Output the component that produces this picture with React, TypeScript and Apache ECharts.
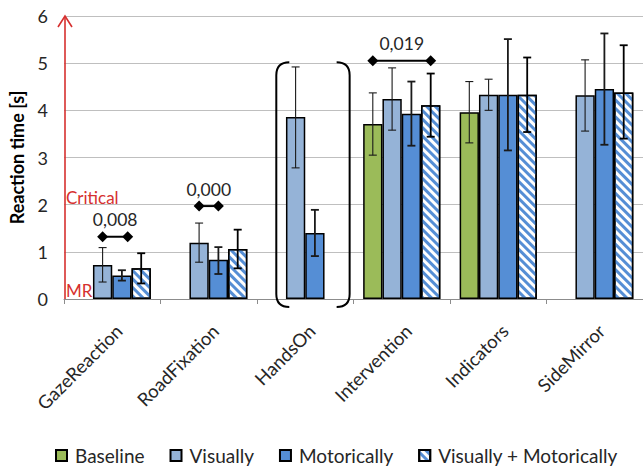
import React, { useEffect, useRef } from "react";
import * as echarts from "echarts";

const categories = ["GazeReaction", "RoadFixation", "HandsOn", "Intervention", "Indicators", "SideMirror"];
const seriesNames = ["Baseline", "Visually", "Motorically", "Visually + Motorically"];

const baseline = [null, null, null, 3.71, 3.96, null];
const visually = [0.72, 1.19, 3.86, 4.24, 4.33, 4.32];
const motorically = [0.5, 0.83, 1.4, 3.93, 4.33, 4.45];
const visMot = [0.65, 1.06, null, 4.11, 4.33, 4.38];

const baselineLow = [null, null, null, 3.05, 3.31, null];
const baselineHigh = [null, null, null, 4.37, 4.61, null];
const visuallyLow = [0.36, 0.78, 2.78, 3.58, 4.0, 3.56];
const visuallyHigh = [1.09, 1.61, 4.92, 4.9, 4.66, 5.07];
const motoricallyLow = [0.39, 0.53, 0.91, 3.25, 3.15, 3.27];
const motoricallyHigh = [0.61, 1.1, 1.89, 4.61, 5.51, 5.63];
const visMotLow = [0.33, 0.65, null, 3.44, 3.54, 3.4];
const visMotHigh = [0.97, 1.47, null, 4.78, 5.12, 5.38];

// significance markers: category, from slot, to slot, y value, label
const sigCats = [0, 1, 3];
const sigFrom = [1, 1, 0];
const sigTo = [2.3, 2, 3];
const sigY = [1.32, 1.97, 5.05];
const sigLabels = ["0,008", "0,000", "0,019"];

const yTicks = [0, 1, 2, 3, 4, 5, 6];

const COLORS = ["#9bbb59", "#95b3d7", "#558ed5", "#ffffff"];
const RED = "#d6302f";
const TEXT = "#262626";
const FONT = "Lato, 'Liberation Sans', sans-serif";

export default function App() {
  const ref = useRef<HTMLDivElement>(null);
  useEffect(() => {
    document.body.style.margin = "0";
    const chart = echarts.init(ref.current!, null, { renderer: "svg" });
    const values = [baseline, visually, motorically, visMot];
    const lows = [baselineLow, visuallyLow, motoricallyLow, visMotLow];
    const highs = [baselineHigh, visuallyHigh, motoricallyHigh, visMotHigh];

    const errData: number[][] = [];
    lows.forEach((lo, s) =>
      categories.forEach((_, c) => {
        if (lo[c] != null && highs[s][c] != null) errData.push([c, s, lo[c] as number, highs[s][c] as number]);
      })
    );
    const sigData = sigCats.map((c, i) => [c, sigFrom[i], sigTo[i], sigY[i], i]);

    const slotX = (api: any, c: number, s: number) => {
      const center = api.coord([c, 0])[0];
      const bw = (api.size([1, 0])[0] * 0.8) / 4;
      return center + (s - 1.5) * bw;
    };

    const barSeries = seriesNames.map((name, s) => ({
      name,
      type: "bar",
      data: values[s],
      barGap: "0%",
      barCategoryGap: "20%",
      itemStyle: {
        color: COLORS[s],
        borderColor: "#000",
        borderWidth: 1.5,
        ...(s === 3
          ? {
              decal: {
                symbol: "rect",
                color: "#558ed5",
                dashArrayX: [1, 0],
                dashArrayY: [2.2, 2.8],
                rotation: Math.PI / 4,
              },
            }
          : {}),
      },
    }));

    chart.setOption({
      animation: false,
      textStyle: { fontFamily: FONT },
      grid: { left: 64, top: 16, width: 585, height: 283, containLabel: false },
      legend: {
        data: seriesNames,
        left: 50,
        top: 441,
        icon: "rect",
        itemWidth: 11,
        itemHeight: 11,
        itemGap: 25,
        textStyle: { fontSize: 19, color: TEXT, fontFamily: FONT, padding: [0, 0, 0, 3] },
      },
      xAxis: {
        type: "category",
        data: categories,
        axisLine: { lineStyle: { color: "#8c8c8c", width: 1 } },
        axisTick: { show: true, length: 5, lineStyle: { color: "#8c8c8c" } },
        axisLabel: {
          rotate: 45,
          fontSize: 18.5,
          color: TEXT,
          margin: 22,
          fontFamily: FONT,
          interval: 0,
          align: "right",
          verticalAlign: "top",
        },
      },
      yAxis: {
        type: "value",
        min: yTicks[0],
        max: yTicks[yTicks.length - 1],
        interval: 1,
        name: "Reaction time [s]",
        nameLocation: "middle",
        nameGap: 38,
        nameTextStyle: { fontSize: 18, fontWeight: "bold", color: "#000", fontFamily: FONT },
        axisLine: { show: false },
        axisTick: { show: false },
        axisLabel: { fontSize: 18, color: TEXT, margin: 16, fontFamily: FONT },
        splitLine: { lineStyle: { color: "#bfbfbf", width: 1 } },
      },
      series: [
        ...barSeries,
        {
          type: "custom",
          name: "err",
          data: errData,
          encode: { x: 0, y: [2, 3] },
          z: 5,
          renderItem: (params: any, api: any) => {
            const c = api.value(0);
            const s = api.value(1);
            const x = slotX(api, c, s);
            const yl = api.coord([c, api.value(2)])[1];
            const yh = api.coord([c, api.value(3)])[1];
            const hw = 4;
            const st = { stroke: s === 3 ? "#000" : "#1a1a1a", lineWidth: s === 3 || s === 2 ? 1.8 : 1.1 };
            return {
              type: "group",
              children: [
                { type: "line", shape: { x1: x, y1: yh, x2: x, y2: yl }, style: st },
                { type: "line", shape: { x1: x - hw, y1: yh, x2: x + hw, y2: yh }, style: st },
                { type: "line", shape: { x1: x - hw, y1: yl, x2: x + hw, y2: yl }, style: st },
              ],
            };
          },
        },
        {
          type: "custom",
          name: "sig",
          data: sigData,
          encode: { x: 0, y: 3 },
          z: 6,
          renderItem: (params: any, api: any) => {
            const c = api.value(0);
            const x1 = slotX(api, c, api.value(1));
            const x2 = slotX(api, c, api.value(2));
            const y = api.coord([c, api.value(3)])[1];
            const label = sigLabels[api.value(4)];
            const d = (x: number) => ({
              type: "polygon",
              shape: { points: [[x - 5.5, y], [x, y - 5.5], [x + 5.5, y], [x, y + 5.5]] },
              style: { fill: "#000" },
            });
            return {
              type: "group",
              children: [
                { type: "line", shape: { x1, y1: y, x2, y2: y }, style: { stroke: "#000", lineWidth: 2 } },
                d(x1),
                d(x2),
                {
                  type: "text",
                  x: (x1 + x2) / 2,
                  y: y - 17,
                  style: {
                    text: label,
                    fill: TEXT,
                    font: `17.5px ${FONT}`,
                    align: "center",
                    verticalAlign: "middle",
                  },
                },
              ],
            };
          },
        },
        {
          type: "custom",
          name: "bracket",
          data: [[2, 0, 3.8, 5.02, -0.17]],
          encode: { x: 0, y: 3 },
          z: 6,
          renderItem: (params: any, api: any) => {
            const c = api.value(0);
            const xl = slotX(api, c, api.value(1));
            const xr = slotX(api, c, api.value(2));
            const yt = api.coord([c, api.value(3)])[1];
            const yb = api.coord([c, api.value(4)])[1];
            const r = 13;
            const st = { stroke: "#000", lineWidth: 2, fill: "none" };
            return {
              type: "group",
              children: [
                {
                  type: "path",
                  shape: {
                    pathData: `M${xl + r} ${yt} Q${xl} ${yt} ${xl} ${yt + r} L${xl} ${yb - r} Q${xl} ${yb} ${xl + r} ${yb}`,
                  },
                  style: st,
                },
                {
                  type: "path",
                  shape: {
                    pathData: `M${xr - r} ${yt} Q${xr} ${yt} ${xr} ${yt + r} L${xr} ${yb - r} Q${xr} ${yb} ${xr - r} ${yb}`,
                  },
                  style: st,
                },
              ],
            };
          },
        },
        {
          type: "custom",
          name: "arrow",
          data: [[0, 0, 6, 2.16, 0.19]],
          encode: { x: 0, y: 2 },
          z: 7,
          renderItem: (params: any, api: any) => {
            const x = params.coordSys.x + 1;
            const y0 = api.coord([0, api.value(1)])[1];
            const y6 = api.coord([0, api.value(2)])[1];
            const yc = api.coord([0, api.value(3)])[1];
            const ym = api.coord([0, api.value(4)])[1];
            const st = { stroke: RED, lineWidth: 1.6, fill: "none" };
            return {
              type: "group",
              children: [
                { type: "line", shape: { x1: x, y1: y0, x2: x, y2: y6 }, style: st },
                { type: "polyline", shape: { points: [[x - 7, y6 + 11], [x, y6], [x + 7, y6 + 11]] }, style: st },
                {
                  type: "text",
                  x: x + 1,
                  y: yc,
                  style: { text: "Critical", fill: RED, font: `17px ${FONT}`, align: "left", verticalAlign: "middle" },
                },
                {
                  type: "text",
                  x: x + 1,
                  y: ym,
                  style: { text: "MR", fill: RED, font: `17px ${FONT}`, align: "left", verticalAlign: "middle" },
                },
              ],
            };
          },
        },
      ],
    });
    return () => chart.dispose();
  }, []);
  return <div ref={ref} style={{ width: 643, height: 468 }} />;
}
